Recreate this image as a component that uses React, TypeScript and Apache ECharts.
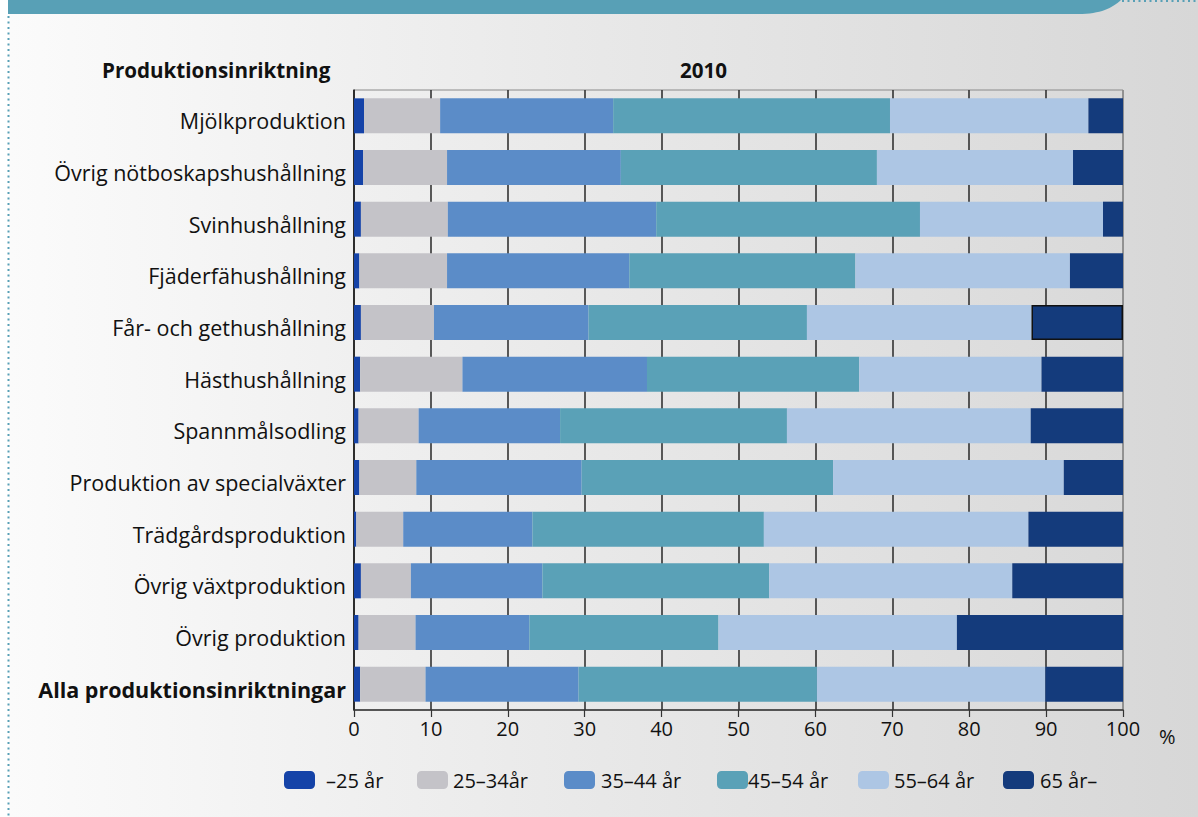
import React, { useEffect, useRef } from "react";
import * as echarts from "echarts";

const categories = [
  "Mjölkproduktion",
  "Övrig nötboskapshushållning",
  "Svinhushållning",
  "Fjäderfähushållning",
  "Får- och gethushållning",
  "Hästhushållning",
  "Spannmålsodling",
  "Produktion av specialväxter",
  "Trädgårdsproduktion",
  "Övrig växtproduktion",
  "Övrig produktion",
  "Alla produktionsinriktningar",
];

const seriesNames = ["–25 år", "25–34år", "35–44 år", "45–54 år", "55–64 år", "65 år–"];

const ageUnder25 = [1.3, 1.2, 0.9, 0.7, 0.9, 0.8, 0.6, 0.7, 0.3, 0.9, 0.6, 0.8];
const age25to34 = [9.9, 10.9, 11.3, 11.4, 9.5, 13.3, 7.8, 7.4, 6.1, 6.5, 7.4, 8.5];
const age35to44 = [22.5, 22.6, 27.1, 23.7, 20.1, 24.0, 18.4, 21.5, 16.8, 17.1, 14.8, 19.9];
const age45to54 = [36.0, 33.3, 34.3, 29.4, 28.4, 27.6, 29.5, 32.7, 30.1, 29.5, 24.6, 31.0];
const age55to64 = [25.8, 25.5, 23.8, 27.9, 29.2, 23.7, 31.7, 30.0, 34.4, 31.6, 31.0, 29.7];
const age65plus = [4.5, 6.5, 2.6, 6.9, 11.9, 10.6, 12.0, 7.7, 12.3, 14.4, 21.6, 10.1];

const xTicks = [0, 10, 20, 30, 40, 50, 60, 70, 80, 90, 100];

const colors = ["#1543a8", "#c4c3c8", "#5b8cc8", "#5aa1b7", "#adc6e4", "#143b7c"];

const FONT = "'Open Sans', 'Noto Sans', sans-serif";

const legendLeft = [284, 417, 564, 717, 858, 1003];
const legendPad = [6, 0, 1, -5, 0, 1];

echarts.graphic.registerShape(
  "headerBar",
  echarts.graphic.extendPath("M8 0 L1121 0 C1112 8 1101 14 1078 14 L8 14 Z", {})
);

export default function App() {
  const ref = useRef<HTMLDivElement>(null);

  useEffect(() => {
    if (!ref.current) return;
    const chart = echarts.init(ref.current, undefined, { renderer: "svg" });

    const allSeries = [ageUnder25, age25to34, age35to44, age45to54, age55to64, age65plus];

    const series = allSeries.map((arr, si) => ({
      name: seriesNames[si],
      type: "bar",
      stack: "total",
      barWidth: 35,
      itemStyle: { color: colors[si] },
      data: arr.map((v, i) =>
        si === 5 && i === 4
          ? { value: v, itemStyle: { color: colors[si], borderColor: "#111", borderWidth: 1.5 } }
          : v
      ),
    }));

    const legends = seriesNames.map((n, i) => ({
      data: [{ name: n, icon: "roundRect" }],
      left: legendLeft[i],
      top: 770,
      padding: 0,
      itemWidth: 31,
      itemHeight: 18,
      textStyle: {
        fontFamily: FONT,
        fontSize: 20,
        color: "#111",
        padding: [0, 0, 0, legendPad[i]],
      },
      selectedMode: false,
    }));

    chart.setOption({
      animation: false,
      textStyle: { fontFamily: FONT },
      grid: {
        left: 354,
        right: 75,
        top: 90,
        bottom: 107,
        show: true,
        borderColor: "#8a8a8a",
        borderWidth: 1,
        backgroundColor: "transparent",
      },
      legend: legends,
      xAxis: {
        type: "value",
        min: 0,
        max: 100,
        interval: 10,
        axisLine: { show: true, lineStyle: { color: "#333", width: 1.5 } },
        axisTick: { show: true, length: 7, lineStyle: { color: "#333", width: 1.2 } },
        axisLabel: {
          fontFamily: FONT,
          fontSize: 20,
          color: "#111",
          margin: 8,
          formatter: (v: number) => (xTicks.includes(v) ? String(v) : ""),
        },
        splitLine: {
          show: true,
          lineStyle: {
            color: ["#333", "#333", "#333", "#333", "#333", "#333", "#333", "#333", "#333", "#333", "#8a8a8a"],
            width: 1.6,
          },
        },
      },
      yAxis: {
        type: "category",
        inverse: true,
        data: categories,
        axisLine: { show: true, lineStyle: { color: "#222", width: 1.5 } },
        axisTick: { show: false },
        axisLabel: {
          fontFamily: FONT,
          fontSize: 21.5,
          color: "#111",
          margin: 8,
          padding: [10, 0, 0, 0],
          formatter: (v: string) =>
            v === "Alla produktionsinriktningar" ? `{b|${v}}` : v,
          rich: {
            b: { fontFamily: FONT, fontSize: 21.5, fontWeight: "bold", color: "#111" },
          },
        },
      },
      series,
      graphic: [
        {
          type: "rect",
          z: -100,
          shape: { x: 9, y: 0, width: 1189, height: 817 },
          style: {
            fill: new echarts.graphic.LinearGradient(0, 0, 1, 0, [
              { offset: 0, color: "#fbfbfb" },
              { offset: 0.5, color: "#e8e8e8" },
              { offset: 1, color: "#d7d7d7" },
            ]),
          },
          silent: true,
        },
        {
          type: "headerBar",
          x: 0,
          y: 0,
          style: { fill: "#58a0b6" },
          silent: true,
        },
        {
          type: "line",
          shape: { x1: 8.5, y1: 16, x2: 8.5, y2: 817 },
          style: { stroke: "#58a0b6", lineWidth: 2, lineDash: [2, 3.5] },
          silent: true,
        },
        {
          type: "line",
          shape: { x1: 1122, y1: 1, x2: 1198, y2: 1 },
          style: { stroke: "#58a0b6", lineWidth: 2, lineDash: [2, 3.5] },
          silent: true,
        },
        {
          type: "text",
          left: 102,
          top: 59,
          style: {
            text: "Produktionsinriktning",
            fontFamily: FONT,
            fontSize: 20.6,
            fontWeight: "bold",
            fill: "#111",
          },
        },
        {
          type: "text",
          left: 680,
          top: 59,
          style: {
            text: "2010",
            fontFamily: FONT,
            fontSize: 20.6,
            fontWeight: "bold",
            fill: "#111",
          },
        },
        {
          type: "text",
          left: 1159,
          top: 726,
          style: {
            text: "%",
            fontFamily: FONT,
            fontSize: 20,
            fill: "#111",
          },
        },
      ],
    });

    return () => chart.dispose();
  }, []);

  return (
    <div
      ref={ref}
      style={{ position: "absolute", left: 0, top: 0, width: 1198, height: 817 }}
    />
  );
}
